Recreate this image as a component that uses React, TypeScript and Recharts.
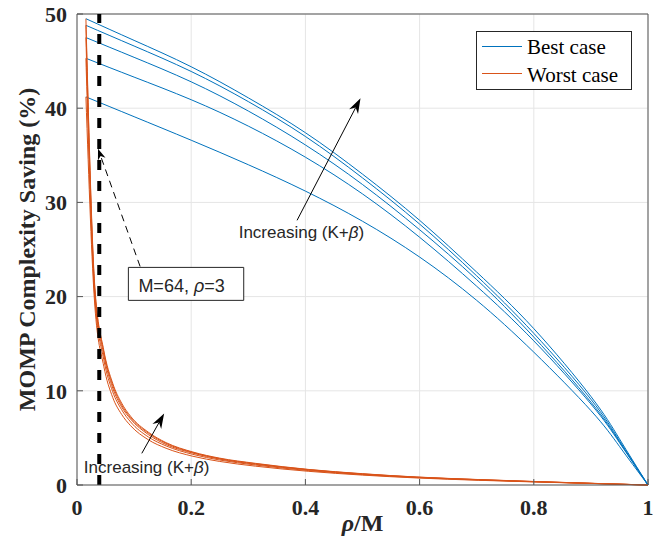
import React from 'react'
import {
  LineChart,
  Line,
  XAxis,
  YAxis,
  CartesianGrid,
  ReferenceLine,
  ReferenceArea,
  ReferenceDot,
  Legend,
  Label,
} from 'recharts'

// rho/M sample points for the best-case curves
const bestX = [0.0156, 0.1, 0.2, 0.3, 0.4, 0.5, 0.6, 0.7, 0.8, 0.9, 0.95, 1]
const best1 = [41.2, 39.1, 36.6, 34.0, 31.2, 28.0, 24.2, 19.6, 14.1, 7.9, 4.1, 0]
const best2 = [45.3, 43.3, 40.9, 38.1, 34.8, 30.9, 26.3, 21.1, 15.3, 8.6, 4.5, 0]
const best3 = [47.5, 45.4, 42.8, 39.7, 36.1, 31.9, 27.1, 21.8, 15.7, 8.8, 4.6, 0]
const best4 = [48.8, 46.6, 43.9, 40.7, 37.0, 32.6, 27.7, 22.2, 16.1, 9.1, 4.7, 0]
const best5 = [49.5, 47.2, 44.4, 41.1, 37.4, 33.0, 28.1, 22.6, 16.6, 9.4, 4.9, 0]

// rho/M sample points for the worst-case curves
const worstX = [
  0.0156, 0.03125, 0.0469, 0.0625, 0.0781, 0.0938, 0.125, 0.156, 0.203, 0.25, 0.3125, 0.406, 0.5, 0.594, 0.703,
  0.797, 0.906, 1,
]
const worst1 = [41.2, 19.0, 12.6, 9.3, 7.5, 6.3, 4.8, 3.9, 3.05, 2.5, 2.0, 1.45, 1.05, 0.75, 0.5, 0.33, 0.15, 0]
const worst2 = [45.3, 19.8, 13.3, 9.9, 8.0, 6.7, 5.1, 4.15, 3.25, 2.65, 2.12, 1.53, 1.1, 0.79, 0.53, 0.35, 0.16, 0]
const worst3 = [47.5, 20.3, 13.8, 10.3, 8.3, 7.0, 5.35, 4.3, 3.38, 2.75, 2.2, 1.6, 1.15, 0.82, 0.56, 0.36, 0.16, 0]
const worst4 = [48.8, 20.7, 14.1, 10.6, 8.5, 7.15, 5.5, 4.42, 3.45, 2.8, 2.26, 1.63, 1.18, 0.84, 0.57, 0.37, 0.17, 0]
const worst5 = [49.5, 21.0, 14.3, 10.8, 8.7, 7.3, 5.6, 4.5, 3.5, 2.85, 2.3, 1.65, 1.2, 0.85, 0.58, 0.38, 0.17, 0]

const xTicks = [0, 0.2, 0.4, 0.6, 0.8, 1]
const yTicks = [0, 10, 20, 30, 40, 50]
const markerX = 0.039

const BLUE = '#0072BD'
const ORANGE = '#D95319'
const AXIS = '#555555'

const toPoints = (xs: number[], ys: number[]) => xs.map((x, i) => ({ x, y: ys[i] }))

const bestSeries = [best1, best2, best3, best4, best5].map((ys) => toPoints(bestX, ys))
const worstSeries = [worst1, worst2, worst3, worst4, worst5].map((ys) => toPoints(worstX, ys))

const tickStyle = { fontFamily: 'Liberation Serif', fontWeight: 'bold', fontSize: 22, fill: '#262626' }
const noteFont = 'Liberation Sans'

const arrow =
  (len: number, half: number, dashed: boolean) =>
  (p: any) => {
    const { x1, y1, x2, y2 } = p
    const a = Math.atan2(y2 - y1, x2 - x1)
    const ux = Math.cos(a)
    const uy = Math.sin(a)
    const bx = x2 - ux * len
    const by = y2 - uy * len
    const nx = x2 - ux * len * 0.7
    const ny = y2 - uy * len * 0.7
    const pts = [
      [x2, y2],
      [bx - uy * half, by + ux * half],
      [nx, ny],
      [bx + uy * half, by - ux * half],
    ]
      .map((q) => q.join(','))
      .join(' ')
    return (
      <g>
        <line
          x1={x1}
          y1={y1}
          x2={nx}
          y2={ny}
          stroke="#000"
          strokeWidth={1}
          strokeDasharray={dashed ? '7 5' : undefined}
        />
        <polygon points={pts} fill="#000" />
      </g>
    )
  }

const note = (p: any) => (
  <text x={p.cx} y={p.cy} textAnchor="middle" fontFamily={noteFont} fontSize={17} fill="#262626">
    Increasing (K+<tspan fontStyle="italic">β</tspan>)
  </text>
)

const boxText = (p: any) => {
  const vb = p.viewBox
  return (
    <text x={vb.x + 10} y={vb.y + vb.height - 8} fontFamily={noteFont} fontSize={18} fill="#262626">
      M=64, <tspan fontStyle="italic">ρ</tspan>=3
    </text>
  )
}

const yLabel = (p: any) => {
  const vb = p.viewBox
  const cx = 27
  const cy = vb.y + vb.height / 2
  return (
    <text
      x={cx}
      y={cy}
      transform={`rotate(-90 ${cx} ${cy})`}
      textAnchor="middle"
      dominantBaseline="central"
      fontFamily="Liberation Serif"
      fontWeight="bold"
      fontSize={24}
      fill="#262626"
    >
      MOMP Complexity Saving (%)
    </text>
  )
}

const xLabel = (p: any) => {
  const vb = p.viewBox
  return (
    <text
      x={vb.x + vb.width / 2}
      y={531}
      textAnchor="middle"
      fontFamily="Liberation Serif"
      fontWeight="bold"
      fontSize={24}
      fill="#262626"
    >
      <tspan fontStyle="italic">ρ</tspan>/M
    </text>
  )
}

const legendBox = () => (
  <svg width={157} height={60} style={{ display: 'block' }}>
    <rect x={0.5} y={0.5} width={155} height={58} fill="#fff" stroke="#262626" strokeWidth={1} />
    <line x1={6} y1={15.5} x2={46} y2={15.5} stroke={BLUE} strokeWidth={1} />
    <text x={51} y={23} fontFamily="Liberation Serif" fontSize={21} fill="#000">
      Best case
    </text>
    <line x1={6} y1={42.5} x2={46} y2={42.5} stroke={ORANGE} strokeWidth={1} />
    <text x={51} y={51} fontFamily="Liberation Serif" fontSize={21} fill="#000">
      Worst case
    </text>
  </svg>
)

export default function App() {
  return (
    <div style={{ position: 'absolute', left: 0, top: 0, width: 663, height: 539, background: '#fff' }}>
      <LineChart width={663} height={539} margin={{ top: 14, right: 15, bottom: 0, left: 0 }}>
        <CartesianGrid stroke="#e5e5e5" />
        <XAxis
          dataKey="x"
          type="number"
          domain={[0, 1]}
          ticks={xTicks}
          interval={0}
          height={54}
          tick={tickStyle}
          tickSize={-6}
          tickMargin={20}
          tickLine={{ stroke: AXIS }}
          axisLine={{ stroke: AXIS }}
        >
          <Label content={xLabel} />
        </XAxis>
        <YAxis
          dataKey="y"
          type="number"
          domain={[0, 50]}
          ticks={yTicks}
          interval={0}
          width={77}
          tick={tickStyle}
          tickSize={-6}
          tickMargin={16}
          tickLine={{ stroke: AXIS }}
          axisLine={{ stroke: AXIS }}
        >
          <Label content={yLabel} />
        </YAxis>
        <ReferenceLine y={50} stroke={AXIS} />
        <ReferenceLine x={1} stroke={AXIS} />
        {bestSeries.map((d, i) => (
          <Line
            key={`b${i}`}
            data={d}
            dataKey="y"
            type="natural"
            stroke={BLUE}
            strokeWidth={1}
            dot={false}
            activeDot={false}
            isAnimationActive={false}
          />
        ))}
        {worstSeries.map((d, i) => (
          <Line
            key={`w${i}`}
            data={d}
            dataKey="y"
            type="monotone"
            stroke={ORANGE}
            strokeWidth={1}
            dot={false}
            activeDot={false}
            isAnimationActive={false}
          />
        ))}
        <ReferenceLine x={markerX} stroke="#000" strokeWidth={4} strokeDasharray="10 11" />
        <ReferenceArea
          x1={0.09}
          x2={0.292}
          y1={19.6}
          y2={23.1}
          fill="#fff"
          fillOpacity={1}
          stroke="#262626"
          strokeWidth={1}
          label={boxText}
        />
        <ReferenceLine
          segment={[
            { x: 0.1105, y: 23.2 },
            { x: 0.0368, y: 35.7 },
          ]}
          shape={arrow(11, 4, true)}
        />
        <ReferenceLine
          segment={[
            { x: 0.3854, y: 28.1 },
            { x: 0.4965, y: 41.05 },
          ]}
          shape={arrow(15, 5, false)}
        />
        <ReferenceLine
          segment={[
            { x: 0.1135, y: 3.36 },
            { x: 0.1526, y: 7.6 },
          ]}
          shape={arrow(15, 5, false)}
        />
        <ReferenceDot x={0.393} y={26.22} r={0} shape={note} />
        <ReferenceDot x={0.1219} y={1.31} r={0} shape={note} />
        <Legend
          content={legendBox}
          layout="horizontal"
          verticalAlign="middle"
          align="center"
          wrapperStyle={{ position: 'absolute', left: 476, top: 31, width: 157, height: 60 }}
        />
      </LineChart>
    </div>
  )
}
